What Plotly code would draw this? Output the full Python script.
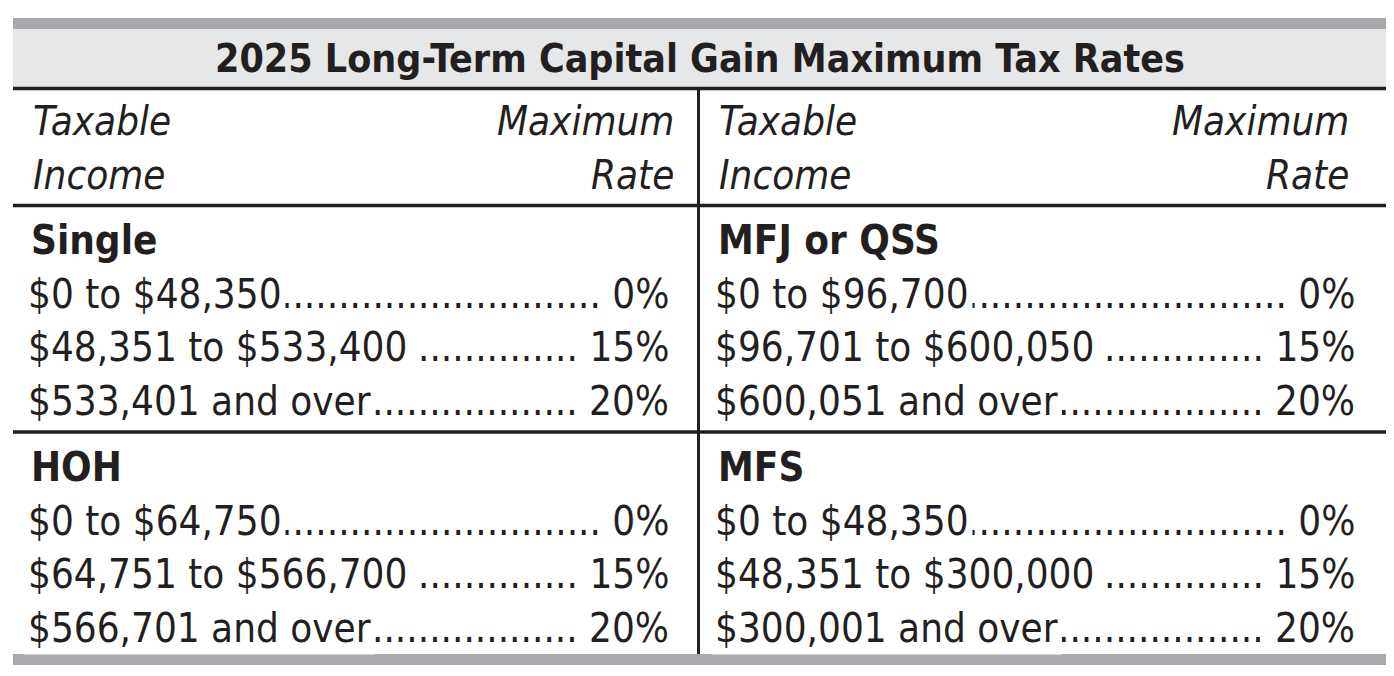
import math
import plotly.graph_objects as go

# table content
title = "2025 Long-Term Capital Gain Maximum Tax Rates"
col_left = ["Taxable", "Income"]
col_right = ["Maximum", "Rate"]
statuses = ["Single", "MFJ or QSS", "HOH", "MFS"]
single_ranges = ["$0 to $48,350", "$48,351 to $533,400", "$533,401 and over"]
mfj_ranges = ["$0 to $96,700", "$96,701 to $600,050", "$600,051 and over"]
hoh_ranges = ["$0 to $64,750", "$64,751 to $566,700", "$566,701 and over"]
mfs_ranges = ["$0 to $48,350", "$48,351 to $300,000", "$300,001 and over"]
rates = ["0%", "15%", "20%"]

FONT = "DejaVu Sans Condensed, sans-serif"
INK = "#231f20"
GRAY = "#a7a9ac"
BAND = "#e6e7e8"
SIZE = 40

# rough advance widths (em) of DejaVu Sans, condensed face is ~0.89 of these
ADV = {" ": 0.318, ",": 0.318, ".": 0.318, "%": 0.950, "t": 0.392, "o": 0.612,
       "a": 0.613, "n": 0.634, "d": 0.635, "v": 0.592, "e": 0.615, "r": 0.411}


def text_w(s, size=SIZE):
    return sum(ADV.get(c, 0.636) for c in s) * 0.89 * size


# panel geometry (pixels)
panels = [
    dict(status=statuses[0], ranges=single_ranges, x0=27, x1=671, top=240),
    dict(status=statuses[1], ranges=mfj_ranges, x0=714, x1=1357, top=240),
    dict(status=statuses[2], ranges=hoh_ranges, x0=27, x1=671, top=467),
    dict(status=statuses[3], ranges=mfs_ranges, x0=714, x1=1357, top=467),
]
row_step = 53.7

fig = go.Figure()
fig.add_trace(go.Scatter(x=[20, 1380], y=[20, 660], mode="markers",
                         marker=dict(opacity=0), hoverinfo="skip", showlegend=False))

shapes = [
    dict(type="rect", x0=13, x1=1386, y0=18, y1=29, fillcolor=GRAY, line_width=0),
    dict(type="rect", x0=13, x1=1386, y0=29, y1=87, fillcolor=BAND, line_width=0),
    dict(type="line", x0=13, x1=1386, y0=88.5, y1=88.5, line=dict(color=INK, width=3.5)),
    dict(type="line", x0=13, x1=1386, y0=205.5, y1=205.5, line=dict(color=INK, width=3.5)),
    dict(type="line", x0=13, x1=1386, y0=432, y1=432, line=dict(color=INK, width=3.5)),
    dict(type="rect", x0=13, x1=1386, y0=654, y1=665, fillcolor=GRAY, line_width=0),
    dict(type="line", x0=698.5, x1=698.5, y0=90, y1=654, line=dict(color=INK, width=3)),
]

annotations = []


def add_text(text, x, y, xanchor, size=SIZE, bg=None):
    a = dict(text=text, x=x, y=y, xref="x", yref="y", xanchor=xanchor, yanchor="middle",
             showarrow=False, font=dict(family=FONT, size=size, color=INK))
    if bg:
        a.update(bgcolor=bg, borderpad=3)
    annotations.append(a)


add_text("<b>" + title + "</b>", 699.5, 58, "center", size=39)

# column headers
for hx0, hx1 in [(31, 676), (717, 1351)]:
    for i, y in enumerate([121, 175]):
        add_text("<i>" + col_left[i] + "</i>", hx0, y, "left")
        add_text("<i>" + col_right[i] + "</i>", hx1, y, "right")

# dot leaders + rates first, labels on top with white boxes
for p in panels:
    for i, rate in enumerate(rates):
        y = p["top"] + row_step * (i + 1)
        gap = 4 + (text_w(" ") if i == 1 else 0)  # middle rows have a space before the leader
        room = p["x1"] - text_w(" " + rate) - (p["x0"] + text_w(p["ranges"][i])) - gap
        n = max(0, math.floor(room / text_w(".")))
        add_text("." * n + " " + rate, p["x1"], y, "right")
for p in panels:
    add_text("<b>" + p["status"] + "</b>", p["x0"] + 2, p["top"], "left")
    for i, label in enumerate(p["ranges"]):
        y = p["top"] + row_step * (i + 1)
        add_text(label, p["x0"] - 3, y, "left", bg="white")

# the page body adds an 8px margin, so the figure is sized and ranged to fit inside it
fig.update_layout(
    width=1378, height=660,
    margin=dict(l=0, r=0, t=0, b=0),
    paper_bgcolor="white", plot_bgcolor="white",
    xaxis=dict(range=[8, 1386], visible=False, fixedrange=True),
    yaxis=dict(range=[668, 8], visible=False, fixedrange=True),
    shapes=shapes,
    annotations=annotations,
    showlegend=False,
)

fig.write_html("out.html")
